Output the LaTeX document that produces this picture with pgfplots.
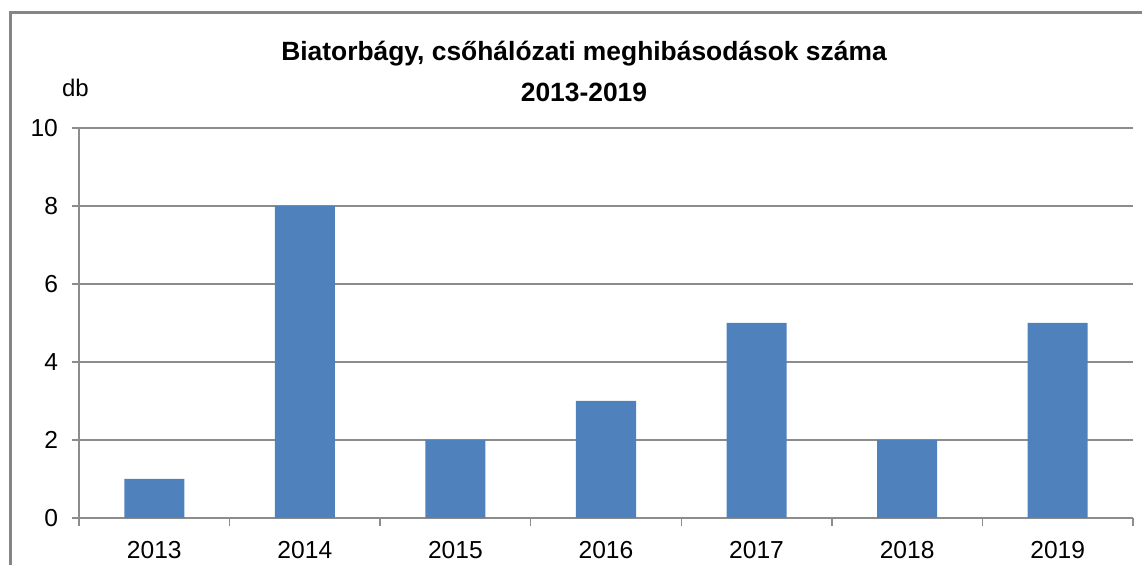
\documentclass[border=0pt]{standalone}
\usepackage{pgfplots}
\pgfplotsset{compat=1.18}
\usepackage{fontspec}
\setmainfont{Liberation Sans}
\definecolor{barblue}{HTML}{4F81BD}
\definecolor{axgray}{HTML}{8C8C8C}
\definecolor{framegray}{HTML}{858585}
\begin{document}
\begin{tikzpicture}[x=0.5pt,y=0.5pt]
\path[use as bounding box] (0,0) rectangle (1142,565);
\draw[framegray, line width=1.2pt] (10.5,-5) -- (10.5,552.5) -- (1150,552.5);
\begin{axis}[
  at={(39.5pt,23.5pt)}, anchor=south west,
  scale only axis, width=527pt, height=195pt,
  xmin=-0.5, xmax=6.5, ymin=0, ymax=10,
  ybar, bar width=30pt,
  xtick={0,...,6},
  xticklabels={2013,2014,2015,2016,2017,2018,2019},
  major x tick style={draw=none},
  minor xtick={-0.5,0.5,...,6.5},
  ytick={0,2,...,10},
  ymajorgrids, grid style={axgray, line width=0.75pt},
  axis x line=bottom, axis y line=left,
  axis line style={axgray, line width=0.75pt, -},
  tick align=outside, tick style={axgray, line width=0.75pt},
  major tick length=3.5pt, minor tick length=4pt,
  ticklabel style={font=\fontsize{12.3}{14}\selectfont, text=black},
  yticklabel style={xshift=-3.5pt},
  xticklabel style={yshift=-4.5pt},
  /pgf/number format/assume math mode=true,
  clip=false,
]
\addplot[fill=barblue, draw=none] coordinates {(0,1) (1,8) (2,2) (3,3) (4,5) (5,2) (6,5)};
\end{axis}
\node[font=\fontsize{12}{14}\selectfont] at (75.5,477) {db};
\node[font=\fontsize{13.2}{15}\bfseries] at (584,511) {Biatorbágy, csőhálózati meghibásodások száma};
\node[font=\fontsize{13.2}{15}\bfseries] at (584,473) {2013-2019};
\end{tikzpicture}
\end{document}
